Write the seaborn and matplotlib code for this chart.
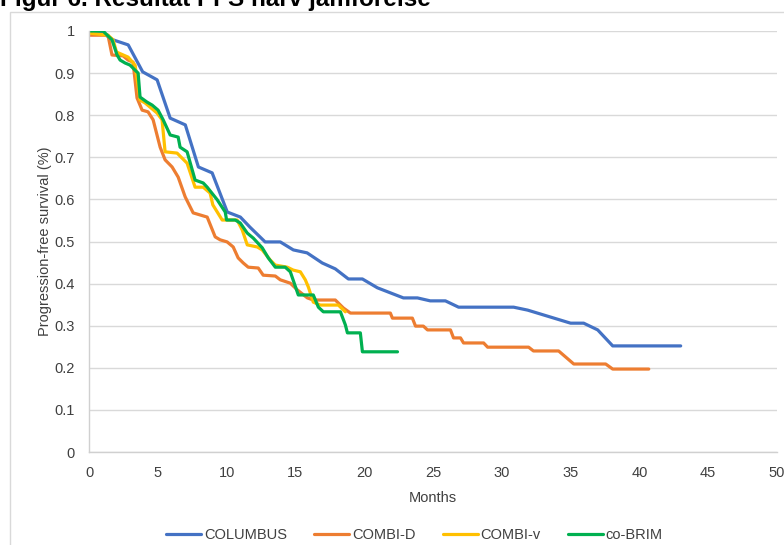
import matplotlib
matplotlib.use("Agg")
import matplotlib.pyplot as plt
import seaborn as sns
import pandas as pd
from matplotlib.patches import Rectangle

# ---------------- data ----------------
columbus_m = [0, 1.0, 1.75, 2.85, 3.9, 4.95, 5.9, 7.0, 7.95, 8.95, 10.05, 11.0, 11.7, 12.8, 13.9,
              14.85, 15.85, 16.95, 17.9, 18.85, 19.87, 20.96, 22.85, 23.87, 24.8, 25.9, 26.86,
              30.86, 31.88, 35.0, 35.95, 36.97, 38.06, 43.0]
columbus_v = [1.0, 0.995, 0.979, 0.967, 0.903, 0.884, 0.793, 0.777, 0.677, 0.663, 0.570, 0.558,
              0.534, 0.499, 0.499, 0.480, 0.473, 0.449, 0.435, 0.411, 0.411, 0.390, 0.366, 0.366,
              0.359, 0.359, 0.344, 0.344, 0.337, 0.306, 0.306, 0.290, 0.252, 0.252]

combid_m = [0, 1.38, 1.67, 2.47, 2.84, 3.2, 3.49, 3.86, 4.29, 4.66, 5.17, 5.53, 6.04, 6.48, 6.99,
            7.57, 8.59, 9.17, 9.53, 10.04, 10.48, 10.84, 11.21, 11.57, 12.3, 12.66, 13.54, 13.9,
            14.63, 15.14, 15.87, 16.3, 17.9, 18.49, 19.0, 21.9, 22.05, 23.5, 23.73, 24.3, 24.6,
            26.27, 26.49, 27.0, 27.22, 28.68, 28.97, 31.95, 32.3, 34.13, 35.23, 37.55, 38.06, 40.68]
combid_v = [0.99, 0.990, 0.943, 0.941, 0.931, 0.926, 0.841, 0.812, 0.808, 0.789, 0.724, 0.694,
            0.677, 0.653, 0.606, 0.568, 0.558, 0.511, 0.504, 0.499, 0.487, 0.461, 0.449, 0.439,
            0.437, 0.420, 0.418, 0.409, 0.401, 0.385, 0.366, 0.361, 0.361, 0.342, 0.330, 0.330,
            0.318, 0.318, 0.299, 0.299, 0.290, 0.290, 0.271, 0.271, 0.259, 0.259, 0.249, 0.249,
            0.240, 0.240, 0.209, 0.209, 0.197, 0.197]

combiv_m = [0, 1.38, 1.75, 2.0, 2.84, 3.35, 3.71, 4.08, 4.95, 5.31, 5.53, 6.4, 7.13, 7.71, 8.3,
            8.8, 9.0, 9.68, 10.77, 11.14, 11.5, 12.23, 12.59, 13.17, 13.54, 14.41, 14.85, 15.36,
            15.72, 15.94, 16.3, 16.81, 18.12, 18.63]
combiv_v = [0.995, 0.990, 0.979, 0.95, 0.938, 0.919, 0.836, 0.829, 0.805, 0.789, 0.713, 0.710,
            0.686, 0.629, 0.629, 0.615, 0.587, 0.551, 0.551, 0.527, 0.492, 0.487, 0.480, 0.456,
            0.444, 0.439, 0.432, 0.428, 0.409, 0.392, 0.356, 0.349, 0.349, 0.333]

cobrim_m = [0, 1.02, 1.67, 2.04, 2.26, 2.62, 2.98, 3.35, 3.57, 3.71, 4.22, 4.59, 5.02, 5.39, 5.9,
            6.48, 6.62, 7.13, 7.71, 8.3, 8.59, 9.32, 9.9, 10.0, 10.63, 10.99, 11.5, 11.94, 12.59,
            13.03, 13.54, 14.26, 14.63, 15.21, 16.3, 16.67, 17.03, 18.27, 18.63, 18.78, 19.72,
            19.87, 22.42]
cobrim_v = [1.0, 1.0, 0.979, 0.943, 0.931, 0.924, 0.919, 0.907, 0.900, 0.843, 0.831, 0.824, 0.812,
            0.789, 0.753, 0.748, 0.724, 0.713, 0.646, 0.639, 0.629, 0.599, 0.570, 0.551, 0.551,
            0.544, 0.520, 0.508, 0.485, 0.461, 0.439, 0.439, 0.428, 0.373, 0.373, 0.344, 0.333,
            0.333, 0.302, 0.283, 0.283, 0.238, 0.238]

series_names = ["COLUMBUS", "COMBI-D", "COMBI-v", "co-BRIM"]
series_colors = ["#4472C4", "#ED7D31", "#FFC000", "#00B050"]
x_ticks = list(range(0, 51, 5))
y_ticks = [0, 0.1, 0.2, 0.3, 0.4, 0.5, 0.6, 0.7, 0.8, 0.9, 1]
y_tick_labels = ["0", "0.1", "0.2", "0.3", "0.4", "0.5", "0.6", "0.7", "0.8", "0.9", "1"]

frames = []
for name, m, v in zip(series_names,
                      [columbus_m, combid_m, combiv_m, cobrim_m],
                      [columbus_v, combid_v, combiv_v, cobrim_v]):
    frames.append(pd.DataFrame({"Months": m, "PFS": v, "Study": name}))
df = pd.concat(frames, ignore_index=True)

# ---------------- plot ----------------
sns.set_theme(style="white")
plt.rcParams["font.family"] = ["Liberation Sans", "DejaVu Sans"]

fig = plt.figure(figsize=(7.84, 5.45), dpi=100)
ax = fig.add_axes([89 / 784, 1 - 452 / 545, (777 - 89) / 784, (452 - 31) / 545])

# outer light border (chart area frame)
fig.patches.append(Rectangle((10 / 784, -0.1), 1.2, 1 - 12 / 545 + 0.1,
                             transform=fig.transFigure, fill=False,
                             edgecolor="#d9d9d9", linewidth=1.0, zorder=0))

sns.lineplot(data=df, x="Months", y="PFS", hue="Study", hue_order=series_names,
             palette=series_colors, sort=False, estimator=None, linewidth=2.3,
             ax=ax, legend=False)

txt_col = "#404040"
fs = 10.5
ax.set_xlim(0, 50)
ax.set_ylim(0, 1)
ax.set_xticks(x_ticks)
ax.set_xticklabels([str(t) for t in x_ticks])
ax.set_yticks(y_ticks)
ax.set_yticklabels(y_tick_labels)
ax.yaxis.grid(True, color="#d9d9d9", linewidth=1.0)
ax.set_axisbelow(True)
for s in ["top", "right"]:
    ax.spines[s].set_visible(False)
ax.spines["left"].set_color("#d0d0d0")
ax.spines["bottom"].set_color("#d0d0d0")
ax.spines["left"].set_linewidth(1.0)
ax.spines["bottom"].set_linewidth(1.0)
ax.tick_params(axis="y", length=0, labelsize=fs, colors=txt_col, pad=10)
ax.tick_params(axis="x", length=0, labelsize=fs, colors=txt_col, pad=10)
ax.set_xlabel("Months", fontsize=fs, color=txt_col, labelpad=8)
ax.set_ylabel("Progression-free survival (%)", fontsize=fs, color=txt_col, labelpad=2)

handles = [plt.Line2D([], [], color=c, linewidth=2.3) for c in series_colors]
fig.legend(handles, series_names, loc="center", bbox_to_anchor=(0.529, 1 - 535 / 545),
           ncol=4, frameon=False, fontsize=fs, handlelength=2.4, handletextpad=0.2,
           columnspacing=1.85, labelcolor=txt_col)

fig.text(0.0, 1 - 6 / 545, "Figur 6. Resultat PFS härv jämförelse", fontsize=17.5,
         fontweight="bold", va="baseline", ha="left", color="#000000")

fig.savefig("out.png", dpi=100)
